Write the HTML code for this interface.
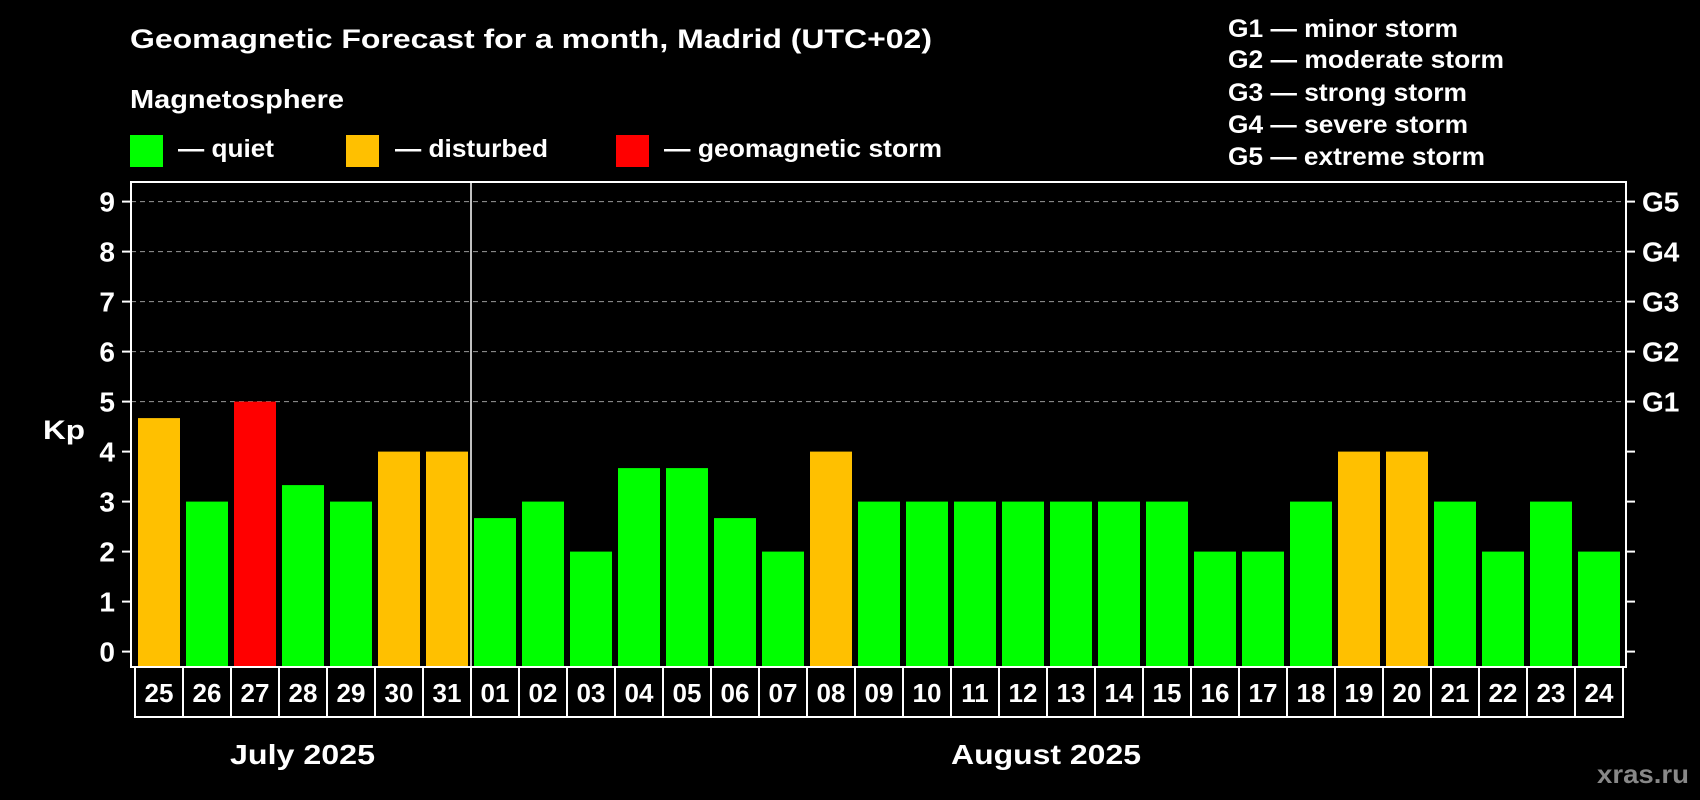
<!DOCTYPE html>
<html><head><meta charset="utf-8"><style>
html,body{margin:0;padding:0;background:#000;}
svg{display:block;font-family:"Liberation Sans",Arial,sans-serif;font-weight:bold;}
</style></head><body>
<svg id="chart" width="1700" height="800" viewBox="0 0 1700 800">
<rect x="0" y="0" width="1700" height="800" fill="#000"/>
<text x="130" y="48" font-size="27" fill="#fff" textLength="802" lengthAdjust="spacingAndGlyphs">Geomagnetic Forecast for a month, Madrid (UTC+02)</text>
<text x="130" y="108" font-size="26" fill="#fff" textLength="214" lengthAdjust="spacingAndGlyphs">Magnetosphere</text>
<g>
<rect x="130" y="135" width="33" height="32" fill="#00ff00"/>
<text x="178" y="157" font-size="25" fill="#fff" textLength="96" lengthAdjust="spacingAndGlyphs">— quiet</text>
</g>
<g>
<rect x="346" y="135" width="33" height="32" fill="#ffc000"/>
<text x="395" y="157" font-size="25" fill="#fff" textLength="153" lengthAdjust="spacingAndGlyphs">— disturbed</text>
</g>
<g>
<rect x="616" y="135" width="33" height="32" fill="#ff0000"/>
<text x="664" y="157" font-size="25" fill="#fff" textLength="278" lengthAdjust="spacingAndGlyphs">— geomagnetic storm</text>
</g>
<g id="glegend"></g>
<g id="grid"></g>
<g id="bars"></g>
<g id="axes"></g>
<text x="230" y="764" font-size="28" fill="#fff" textLength="145" lengthAdjust="spacingAndGlyphs">July 2025</text>
<text x="951" y="764" font-size="28" fill="#fff" textLength="190" lengthAdjust="spacingAndGlyphs">August 2025</text>
<text x="1597" y="783" font-size="26" fill="#888" textLength="92" lengthAdjust="spacingAndGlyphs">xras.ru</text>
<text x="43" y="439" font-size="27" fill="#fff" textLength="42" lengthAdjust="spacingAndGlyphs">Kp</text>
</svg>
<script>
const days = ["25","26","27","28","29","30","31","01","02","03","04","05","06","07","08","09","10","11","12","13","14","15","16","17","18","19","20","21","22","23","24"];
const kpValues = [4.67,3,5,3.33,3,4,4,2.67,3,2,3.67,3.67,2.67,2,4,3,3,3,3,3,3,3,2,2,3,4,4,3,2,3,2];
const yTicks = [0,1,2,3,4,5,6,7,8,9];
const gTicks = [5,6,7,8,9];
const gLabels = ["G1","G2","G3","G4","G5"];
const gDescriptions = ["G1 — minor storm","G2 — moderate storm","G3 — strong storm","G4 — severe storm","G5 — extreme storm"];
const gDescWidths = [230,276,239,240,257];

const NS="http://www.w3.org/2000/svg";
const L=131,R=1626,T=182,B=667,Y0=651.6,UNIT=50,X0=138,PITCH=48,BW=42;
const yS=v=>Y0-v*UNIT;
const xS=i=>X0+i*PITCH;
function mk(tag,attrs,parent,txt){const e=document.createElementNS(NS,tag);for(const k in attrs)e.setAttribute(k,attrs[k]);if(txt!==undefined)e.textContent=txt;parent.appendChild(e);return e;}
const grid=document.getElementById('grid'),bars=document.getElementById('bars'),axes=document.getElementById('axes'),gl=document.getElementById('glegend');

const gBase=[37,68,101,133,165];
gDescriptions.forEach((d,i)=>{
  const t=mk('text',{x:1228,y:gBase[i],'font-size':25,fill:'#fff',textLength:gDescWidths[i],lengthAdjust:'spacingAndGlyphs'},gl,d);
  
  
});

gTicks.forEach(v=>{
  const l=mk('line',{x1:L,x2:R,y1:yS(v),y2:yS(v),stroke:'#999','stroke-width':1,'stroke-dasharray':'5,4'},grid);
  
  
});

kpValues.forEach((v,i)=>{
  const c=v>=5?'#ff0000':(v>=4?'#ffc000':'#00ff00');
  const r=mk('rect',{x:xS(i),y:yS(v),width:BW,height:B-yS(v),fill:c},bars);
  
  
});

const frame=mk('rect',{x:L,y:T,width:R-L,height:B-T,fill:'none',stroke:'#fff','stroke-width':2},axes);


const sepX=xS(7)-3;
const sep=mk('line',{x1:sepX,x2:sepX,y1:T,y2:B,stroke:'#fff','stroke-width':1.5},axes);



yTicks.forEach(v=>{
  const y=yS(v);
  const tk=mk('line',{x1:L-9,x2:L,y1:y,y2:y,stroke:'#fff','stroke-width':2},axes);
  
  
  const lb=mk('text',{x:115,y:y+10,'font-size':28,fill:'#fff','text-anchor':'end'},axes,String(v));
  
  
  const rt=mk('line',{x1:R,x2:R+9,y1:y,y2:y,stroke:'#fff','stroke-width':2},axes);
  
  
});
gTicks.forEach((v,i)=>{
  const lb=mk('text',{x:1642,y:yS(v)+10,'font-size':28,fill:'#fff'},axes,gLabels[i]);
  
  
});

days.forEach((d,i)=>{
  const cx=xS(i)+BW/2;
  const bx=mk('rect',{x:cx-24,y:B,width:48,height:50,fill:'none',stroke:'#fff','stroke-width':2},axes);
  
  
  const t=mk('text',{x:cx,y:702,'font-size':26,fill:'#fff','text-anchor':'middle'},axes,d);
  
  
});
</script>
</body></html>
